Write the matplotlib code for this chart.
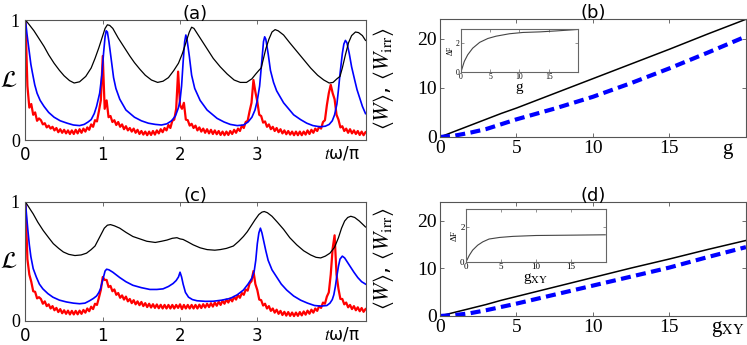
import matplotlib
matplotlib.use("Agg")
import matplotlib.pyplot as plt
import matplotlib.transforms as mtransforms
import numpy as np

plt.rcParams["mathtext.fontset"] = "stix"
plt.rcParams["font.family"] = "DejaVu Sans"

SERIF = "Liberation Serif"
SPINE = "#555555"

# ---------------- panel (a): L(t) for three couplings ----------------
A_BLACK_T = [0, 0.05, 0.11, 0.17, 0.24, 0.3, 0.37, 0.44, 0.5, 0.57, 0.63, 0.7, 0.78, 0.85,
             0.9, 0.95, 1.0, 1.03, 1.06, 1.09, 1.13, 1.2, 1.28, 1.35, 1.41, 1.48, 1.55,
             1.63, 1.71, 1.78, 1.85, 1.92, 1.98, 2.03, 2.08, 2.12, 2.15, 2.18, 2.22, 2.3,
             2.37, 2.43, 2.52, 2.61, 2.7, 2.78, 2.86, 2.93, 2.98, 3.02, 3.05, 3.08, 3.11,
             3.15, 3.19, 3.23, 3.27, 3.34, 3.42, 3.51, 3.6, 3.69, 3.78, 3.86, 3.93, 3.98,
             4.03, 4.07, 4.1, 4.14, 4.18, 4.22, 4.27, 4.31, 4.36, 4.4]
A_BLACK = [1.0, 0.96, 0.91, 0.85, 0.78, 0.71, 0.64, 0.58, 0.535, 0.495, 0.475, 0.485, 0.53,
           0.6, 0.68, 0.77, 0.87, 0.93, 0.96, 0.955, 0.93, 0.85, 0.77, 0.7, 0.645, 0.59,
           0.54, 0.5, 0.48, 0.49, 0.52, 0.58, 0.64, 0.72, 0.82, 0.9, 0.94, 0.93, 0.89,
           0.81, 0.74, 0.68, 0.61, 0.55, 0.5, 0.48, 0.48, 0.51, 0.55, 0.58, 0.6, 0.68,
           0.76, 0.84, 0.9, 0.92, 0.91, 0.875, 0.81, 0.74, 0.67, 0.6, 0.54, 0.5, 0.475,
           0.48, 0.51, 0.53, 0.6, 0.71, 0.81, 0.87, 0.9, 0.895, 0.87, 0.83]

A_BLUE_T = [0, 0.02, 0.04, 0.07, 0.09, 0.12, 0.15, 0.19, 0.24, 0.3, 0.37, 0.45, 0.54, 0.62,
            0.7, 0.76, 0.81, 0.85, 0.89, 0.92, 0.96, 0.99, 1.01, 1.03, 1.045, 1.06, 1.08,
            1.11, 1.14, 1.17, 1.22, 1.3, 1.41, 1.5, 1.59, 1.68, 1.76, 1.83, 1.89, 1.94,
            1.98, 2.0, 2.02, 2.04, 2.06, 2.075, 2.09, 2.12, 2.15, 2.19, 2.26, 2.35, 2.48,
            2.57, 2.65, 2.74, 2.82, 2.88, 2.93, 2.97, 3.0, 3.03, 3.06, 3.08, 3.095, 3.11,
            3.14, 3.17, 3.21, 3.25, 3.34, 3.47, 3.56, 3.64, 3.72, 3.81, 3.88, 3.93, 3.97,
            4.0, 4.03, 4.05, 4.07, 4.1, 4.12, 4.14, 4.16, 4.19, 4.22, 4.26, 4.29, 4.33,
            4.36, 4.4]
A_BLUE = [1.0, 0.88, 0.78, 0.63, 0.56, 0.46, 0.39, 0.33, 0.28, 0.23, 0.19, 0.16, 0.14,
          0.125, 0.12, 0.13, 0.15, 0.17, 0.22, 0.28, 0.39, 0.55, 0.72, 0.86, 0.91, 0.9,
          0.82, 0.67, 0.52, 0.43, 0.34, 0.25, 0.19, 0.16, 0.14, 0.13, 0.125, 0.135, 0.16,
          0.2, 0.27, 0.33, 0.45, 0.65, 0.82, 0.875, 0.84, 0.7, 0.54, 0.43, 0.33, 0.25,
          0.18, 0.15, 0.13, 0.12, 0.125, 0.15, 0.19, 0.25, 0.33, 0.45, 0.67, 0.82, 0.86,
          0.84, 0.72, 0.58, 0.48, 0.41, 0.31, 0.21, 0.17, 0.14, 0.12, 0.11, 0.115, 0.13,
          0.16, 0.21, 0.3, 0.42, 0.55, 0.72, 0.8, 0.83, 0.81, 0.72, 0.61, 0.5, 0.42, 0.34,
          0.28, 0.22]

# red curves are sampled every 0.025 in t*omega/pi (noisy numerical data)
RED_DT = 0.025
A_RED = [
    1.00, 0.45, 0.27, 0.30, 0.21, 0.23, 0.16, 0.18,
    0.165, 0.13, 0.14, 0.105, 0.12, 0.095, 0.11, 0.08,
    0.10, 0.065, 0.09, 0.06, 0.085, 0.055, 0.08, 0.05,
    0.08, 0.05, 0.085, 0.055, 0.09, 0.06, 0.095, 0.07,
    0.105, 0.085, 0.13, 0.11, 0.165, 0.155, 0.24, 0.33,
    0.70, 0.26, 0.33, 0.19, 0.20, 0.15, 0.165, 0.125,
    0.15, 0.11, 0.13, 0.09, 0.115, 0.08, 0.10, 0.07,
    0.095, 0.06, 0.085, 0.05, 0.075, 0.045, 0.07, 0.04,
    0.07, 0.042, 0.075, 0.045, 0.08, 0.055, 0.09, 0.065,
    0.10, 0.08, 0.125, 0.10, 0.16, 0.17, 0.26, 0.57,
    0.29, 0.26, 0.31, 0.17, 0.165, 0.12, 0.135, 0.10,
    0.12, 0.08, 0.105, 0.07, 0.095, 0.06, 0.09, 0.055,
    0.085, 0.05, 0.08, 0.048, 0.075, 0.042, 0.07, 0.04,
    0.07, 0.042, 0.075, 0.05, 0.085, 0.06, 0.095, 0.075,
    0.12, 0.10, 0.15, 0.16, 0.24, 0.31, 0.50, 0.40,
    0.32, 0.21, 0.20, 0.145, 0.155, 0.11, 0.13, 0.09,
    0.11, 0.075, 0.10, 0.065, 0.09, 0.055, 0.08, 0.048,
    0.075, 0.045, 0.07, 0.04, 0.07, 0.04, 0.07, 0.04,
    0.07, 0.045, 0.08, 0.05, 0.085, 0.06, 0.095, 0.075,
    0.11, 0.095, 0.15, 0.165, 0.29, 0.39, 0.46, 0.39,
    0.34, 0.21, 0.17, 0.105, 0.115, 0.075, 0.095, 0.06,
    0.09, 0.055, 0.08, 0.05, 0.075, 0.042, 0.07, 0.04,
    0.065,
]

# ---------------- panel (c) ----------------
C_BLACK_T = [0, 0.05, 0.1, 0.16, 0.23, 0.3, 0.36, 0.43, 0.49, 0.56, 0.64, 0.72, 0.79, 0.85,
             0.9, 0.94, 0.98, 1.02, 1.06, 1.1, 1.15, 1.22, 1.3, 1.39, 1.48, 1.57, 1.68,
             1.76, 1.83, 1.9, 1.96, 2.0, 2.04, 2.1, 2.17, 2.26, 2.35, 2.45, 2.52, 2.6,
             2.69, 2.76, 2.82, 2.87, 2.92, 2.97, 3.02, 3.06, 3.09, 3.13, 3.19, 3.26, 3.34,
             3.42, 3.51, 3.6, 3.69, 3.76, 3.82, 3.88, 3.94, 4.0, 4.05, 4.09, 4.13, 4.17,
             4.21, 4.26, 4.32, 4.4]
C_BLACK = [1.0, 0.95, 0.9, 0.83, 0.76, 0.7, 0.65, 0.61, 0.58, 0.56, 0.55, 0.555, 0.57,
           0.6, 0.63, 0.68, 0.73, 0.78, 0.805, 0.81, 0.8, 0.78, 0.745, 0.71, 0.69, 0.67,
           0.66, 0.67, 0.68, 0.695, 0.7, 0.69, 0.685, 0.665, 0.64, 0.615, 0.6, 0.595,
           0.6, 0.61, 0.63, 0.67, 0.71, 0.75, 0.8, 0.85, 0.895, 0.915, 0.92, 0.91, 0.88,
           0.83, 0.77, 0.7, 0.64, 0.59, 0.555, 0.535, 0.53, 0.545, 0.57, 0.62, 0.7, 0.78,
           0.84, 0.87, 0.88, 0.87, 0.84, 0.79]

C_BLUE_T = [0, 0.015, 0.03, 0.05, 0.07, 0.1, 0.14, 0.18, 0.225, 0.29, 0.355, 0.44, 0.53,
            0.62, 0.7, 0.77, 0.83, 0.88, 0.92, 0.95, 0.97, 0.99, 1.01, 1.03, 1.05, 1.08,
            1.13, 1.22, 1.3, 1.39, 1.5, 1.61, 1.7, 1.78, 1.85, 1.91, 1.95, 1.98, 2.0,
            2.02, 2.04, 2.07, 2.11, 2.16, 2.22, 2.33, 2.43, 2.54, 2.65, 2.74, 2.82, 2.88,
            2.93, 2.96, 2.98, 3.0, 3.02, 3.04, 3.06, 3.08, 3.11, 3.14, 3.19, 3.25, 3.31,
            3.38, 3.47, 3.56, 3.65, 3.74, 3.82, 3.9, 3.94, 3.97, 3.99, 4.01, 4.03, 4.05,
            4.07, 4.1, 4.13, 4.17, 4.21, 4.25, 4.3, 4.35, 4.4]
C_BLUE = [1.0, 0.88, 0.77, 0.64, 0.54, 0.44, 0.37, 0.31, 0.27, 0.23, 0.2, 0.175, 0.16,
          0.15, 0.145, 0.15, 0.17, 0.19, 0.21, 0.24, 0.27, 0.32, 0.37, 0.42, 0.435, 0.43,
          0.41, 0.365, 0.33, 0.3, 0.28, 0.265, 0.265, 0.27, 0.29, 0.315, 0.34, 0.37,
          0.41, 0.37, 0.31, 0.24, 0.2, 0.18, 0.17, 0.165, 0.166, 0.175, 0.19, 0.22, 0.26,
          0.31, 0.36, 0.42, 0.51, 0.65, 0.74, 0.78, 0.74, 0.68, 0.59, 0.51, 0.43, 0.37,
          0.31, 0.26, 0.21, 0.175, 0.15, 0.13, 0.125, 0.13, 0.15, 0.18, 0.22, 0.29,
          0.38, 0.46, 0.52, 0.545, 0.53, 0.49, 0.45, 0.41, 0.365, 0.33, 0.31]

C_RED = [
    1.00, 0.52, 0.39, 0.33, 0.25, 0.245, 0.19, 0.20,
    0.185, 0.145, 0.165, 0.125, 0.14, 0.105, 0.125, 0.09,
    0.11, 0.075, 0.10, 0.065, 0.09, 0.06, 0.087, 0.055,
    0.085, 0.055, 0.085, 0.056, 0.087, 0.06, 0.093, 0.07,
    0.105, 0.082, 0.12, 0.10, 0.145, 0.135, 0.195, 0.26,
    0.37, 0.345, 0.345, 0.285, 0.295, 0.25, 0.265, 0.22,
    0.235, 0.195, 0.215, 0.18, 0.205, 0.165, 0.185, 0.15,
    0.175, 0.14, 0.165, 0.133, 0.16, 0.125, 0.15, 0.117,
    0.145, 0.113, 0.141, 0.11, 0.139, 0.107, 0.136, 0.105,
    0.135, 0.105, 0.135, 0.105, 0.135, 0.105, 0.135, 0.11,
    0.14, 0.10, 0.135, 0.105, 0.135, 0.105, 0.135, 0.105,
    0.135, 0.105, 0.137, 0.109, 0.141, 0.113, 0.145, 0.117,
    0.149, 0.121, 0.155, 0.128, 0.162, 0.135, 0.17, 0.145,
    0.18, 0.155, 0.19, 0.165, 0.203, 0.18, 0.218, 0.195,
    0.235, 0.22, 0.265, 0.255, 0.315, 0.335, 0.42, 0.31,
    0.26, 0.18, 0.175, 0.13, 0.145, 0.105, 0.125, 0.085,
    0.105, 0.07, 0.095, 0.06, 0.085, 0.05, 0.077, 0.045,
    0.075, 0.043, 0.071, 0.041, 0.071, 0.043, 0.075, 0.047,
    0.08, 0.053, 0.087, 0.061, 0.095, 0.07, 0.105, 0.085,
    0.125, 0.11, 0.155, 0.145, 0.205, 0.24, 0.39, 0.61,
    0.72, 0.39, 0.27, 0.185, 0.185, 0.14, 0.155, 0.115,
    0.135, 0.10, 0.125, 0.09, 0.115, 0.082, 0.109, 0.077,
    0.10,
]

# ---------------- panels (b), (d): work vs coupling ----------------
B_G = [0, 1, 2, 3, 4, 5, 7.5, 10, 12.5, 15, 17.5, 20]
B_W = [0, 1.2, 2.4, 3.6, 4.8, 5.9, 8.9, 11.9, 14.9, 17.9, 21.0, 24.0]
B_WIRR = [0, 0.3, 0.9, 1.6, 2.6, 3.6, 5.8, 8.2, 11.0, 14.0, 17.2, 20.5]

D_G = [0, 1, 2, 3, 4, 5, 7.5, 10, 12.5, 15, 17.5, 20]
D_W = [0, 0.8, 1.6, 2.4, 3.3, 4.1, 6.1, 8.1, 10.1, 12.0, 14.0, 15.9]
D_WIRR = [0, 0.2, 0.6, 1.2, 1.9, 2.6, 4.5, 6.4, 8.3, 10.2, 12.4, 14.5]

# insets: Delta F vs coupling
B_IN_G = [0, 0.57, 1.15, 2.0, 3.2, 4.6, 6.0, 8.3, 10.6, 13.5, 16.4, 20]
B_IN_DF = [0, 0.74, 1.2, 1.66, 2.07, 2.34, 2.5, 2.67, 2.76, 2.8, 2.87, 2.97]
D_IN_G = [0, 0.48, 0.95, 1.67, 2.4, 3.3, 4.8, 6.7, 10, 15.2, 19.9]
D_IN_DF = [0, 0.38, 0.67, 0.95, 1.14, 1.3, 1.39, 1.45, 1.5, 1.52, 1.54]


def style_axes(ax):
    for sp in ax.spines.values():
        sp.set_color(SPINE)
        sp.set_linewidth(0.8)
    ax.tick_params(direction="in", top=True, right=True, length=3,
                   width=0.6, color=SPINE)


def draw_L_panel(ax, title, black_t, black, blue_t, blue, red):
    red_t = np.arange(len(red)) * RED_DT
    ax.plot(red_t, red, color="#ff0000", lw=1.6)
    ax.plot(blue_t, blue, color="#0000ff", lw=1.2)
    ax.plot(black_t, black, color="black", lw=0.9)
    ax.set_xlim(0, 4.4)
    ax.set_ylim(0, 1)
    ax.set_xticks([0, 1, 2, 3])
    ax.set_xticklabels(["0", "1", "2", "3"], fontsize=12)
    ax.set_yticks([0, 1])
    ax.set_yticklabels(["0", "1"], fontsize=13, family=SERIF)
    style_axes(ax)
    ax.tick_params(axis="x", pad=4)
    ax.tick_params(axis="y", pad=4)
    ax.set_title(title, fontsize=13, pad=1)
    trans = mtransforms.blended_transform_factory(ax.transData, ax.transAxes)
    ax.text(4.1, -0.11, r"$t$ω/π", transform=trans, ha="center", va="center",
            fontsize=12)
    ax.text(-0.048, 0.5, r"$\mathcal{L}$", transform=ax.transAxes, fontsize=17,
            ha="center", va="center")


def draw_W_panel(ax, title, g, w, wirr, xlab):
    ax.plot(g, w, color="black", lw=1.1)
    ax.plot(g, wirr, color="#0000ff", lw=3, ls=(0, (2.4, 1.3)))
    ax.set_xlim(0, 20)
    ax.set_ylim(0, 24)
    ax.set_xticks([0, 5, 10, 15])
    ax.set_yticks([0, 10, 20])
    for lab in ax.get_xticklabels() + ax.get_yticklabels():
        lab.set_family(SERIF)
        lab.set_fontsize(14)
    style_axes(ax)
    ax.tick_params(axis="x", pad=2)
    ax.tick_params(axis="y", pad=2)
    ax.set_title(title, fontsize=13, pad=1)
    ax.set_ylabel(r"$\langle W\rangle$, $\langle W_{\mathrm{irr}}\rangle$",
                  fontsize=16)
    ax.yaxis.set_label_coords(-0.145, 0.5)
    ax.text(0.94, -0.11, xlab, transform=ax.transAxes, ha="center",
            va="center", fontsize=15, family=SERIF)


def draw_inset(ax, g, df, xlab, fs_tick, fs_lab):
    ax.plot(g, df, color="#444444", lw=0.8)
    ax.set_xlim(0, 20)
    ax.set_ylim(0, 3)
    ax.set_xticks([0, 5, 10, 15])
    ax.set_yticks([0, 2])
    for sp in ax.spines.values():
        sp.set_color("#666666")
        sp.set_linewidth(0.8)
    ax.tick_params(direction="in", top=True, right=True, length=2,
                   width=0.5, color="#666666", labelsize=fs_tick, pad=1)
    for lab in ax.get_xticklabels() + ax.get_yticklabels():
        lab.set_family(SERIF)
    ax.set_ylabel("ΔF", fontsize=fs_tick, family=SERIF, labelpad=1)
    ax.set_xlabel(xlab, fontsize=fs_lab, family=SERIF, labelpad=0)


fig = plt.figure(figsize=(7.47, 3.45), dpi=100)

ax_a = fig.add_axes([0.0341, 0.5942, 0.4552, 0.3478])
ax_b = fig.add_axes([0.589, 0.6029, 0.4096, 0.3412])
ax_c = fig.add_axes([0.0341, 0.0696, 0.4552, 0.3449])
ax_d = fig.add_axes([0.589, 0.0841, 0.4096, 0.3304])

draw_L_panel(ax_a, "(a)", A_BLACK_T, A_BLACK, A_BLUE_T, A_BLUE, A_RED)
draw_L_panel(ax_c, "(c)", C_BLACK_T, C_BLACK, C_BLUE_T, C_BLUE, C_RED)
draw_W_panel(ax_b, "(b)", B_G, B_W, B_WIRR, "g")
draw_W_panel(ax_d, "(d)", D_G, D_W, D_WIRR, r"g$_{\mathrm{XY}}$")

in_b = fig.add_axes([0.6171, 0.7913, 0.1566, 0.1246])
draw_inset(in_b, B_IN_G, B_IN_DF, "g", 5.5, 11)
in_d = fig.add_axes([0.6238, 0.2406, 0.1874, 0.1536])
draw_inset(in_d, D_IN_G, D_IN_DF, r"g$_{\mathrm{XY}}$", 6.5, 11)

fig.savefig("out.png", dpi=100)
